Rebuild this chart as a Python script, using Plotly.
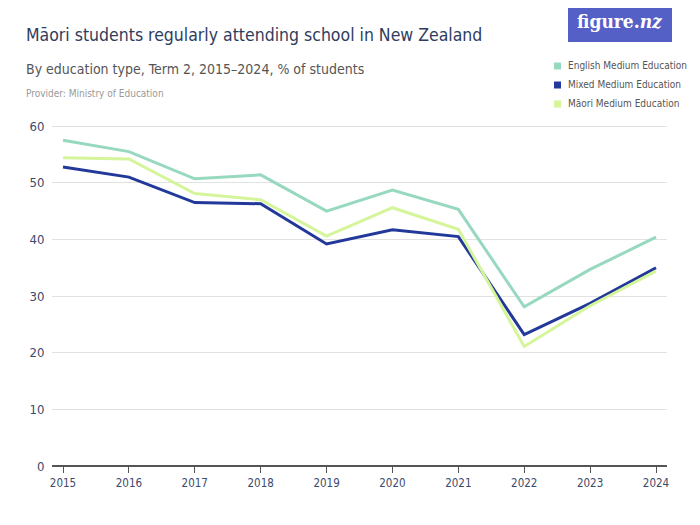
import plotly.graph_objects as go

years = [2015, 2016, 2017, 2018, 2019, 2020, 2021, 2022, 2023, 2024]
english = [57.5, 55.5, 50.7, 51.4, 45.0, 48.7, 45.3, 28.1, 34.7, 40.4]
mixed = [52.8, 51.0, 46.5, 46.3, 39.2, 41.7, 40.5, 23.2, 28.7, 35.0]
maori = [54.4, 54.2, 48.1, 47.0, 40.6, 45.6, 41.8, 21.1, 28.3, 34.4]

series_names = ["English Medium Education", "Mixed Medium Education", "Māori Medium Education"]
series_values = [english, mixed, maori]
colors = ["#97D9BF", "#22399A", "#D5F59B"]

FONT = "DejaVu Sans Condensed, Roboto, sans-serif"

OFF = 8  # page body margin
W, H = 700 - OFF, 525 - OFF
# plot area in reference pixels: left 52, right 667, top 125, bottom 466
L = 52 - OFF
R = W - (667 - OFF)
T = 125 - OFF
B = H - (466 - OFF)
pw = W - L - R
ph = H - T - B

def px(x):
    return (x - OFF - L) / pw

def py(y):
    return (H - B - (y - OFF)) / ph

fig = go.Figure()
for name, vals, c in zip(series_names, series_values, colors):
    fig.add_trace(go.Scatter(x=years, y=vals, mode="lines", name=name,
                             line=dict(color=c, width=3), showlegend=False))

fig.update_layout(
    width=W, height=H,
    margin=dict(l=L, r=R, t=T, b=B, autoexpand=False),
    plot_bgcolor="white", paper_bgcolor="white",
    font=dict(family=FONT, color="#3C4A6B"),
    showlegend=False,
    xaxis=dict(range=[2014.833, 2024.167], tickvals=years,
               ticktext=[str(y) for y in years],
               showgrid=False, zeroline=False, showline=False,
               ticks="outside", ticklen=6, tickcolor="#555555",
               automargin=False,
               tickfont=dict(size=11.5, color="#3C4A6B", family=FONT)),
    yaxis=dict(range=[0, 60.2], tickvals=[0, 10, 20, 30, 40, 50, 60],
               showgrid=True, gridcolor="#E2E2E2", gridwidth=1,
               zeroline=True, zerolinecolor="#555555", zerolinewidth=1.5,
               showline=False, ticks="outside", ticklen=4, tickcolor="rgba(0,0,0,0)",
               automargin=False,
               tickfont=dict(size=13, color="#3C4A6B", family=FONT)),
)

# legend (manual, squares)
leg_y = [66, 85, 104]
for name, c, yy in zip(series_names, colors, leg_y):
    fig.add_shape(type="rect", xref="paper", yref="paper",
                  x0=px(554), x1=px(561), y0=py(yy + 3.5), y1=py(yy - 3.5),
                  fillcolor=c, line=dict(width=0))
    fig.add_annotation(x=px(566), y=py(yy - 0.5), xref="paper", yref="paper",
                       xanchor="left", yanchor="middle", showarrow=False,
                       text=name, font=dict(size=10, color="#555555", family=FONT))

fig.add_annotation(x=px(24), y=py(35), xref="paper", yref="paper",
                   xanchor="left", yanchor="middle", showarrow=False,
                   text="Māori students regularly attending school in New Zealand",
                   font=dict(size=17.5, color="#2E3D5C", family=FONT))
fig.add_annotation(x=px(24), y=py(69), xref="paper", yref="paper",
                   xanchor="left", yanchor="middle", showarrow=False,
                   text="By education type, Term 2, 2015–2024, % of students",
                   font=dict(size=14, color="#555555", family=FONT))
fig.add_annotation(x=px(24), y=py(93), xref="paper", yref="paper",
                   xanchor="left", yanchor="middle", showarrow=False,
                   text="Provider: Ministry of Education",
                   font=dict(size=10, color="#999999", family=FONT))

# logo
fig.add_shape(type="rect", xref="paper", yref="paper",
              x0=px(568), x1=px(672), y0=py(42), y1=py(0),
              fillcolor="#5460C6", line=dict(width=0), layer="above")
fig.add_annotation(x=px(620), y=py(21), xref="paper", yref="paper",
                   xanchor="center", yanchor="middle", showarrow=False,
                   text="<b>figure.<i>nz</i></b>",
                   font=dict(size=19, color="white",
                             family="DejaVu Serif Condensed, DejaVu Serif, serif"))

fig.write_html("out.html")
